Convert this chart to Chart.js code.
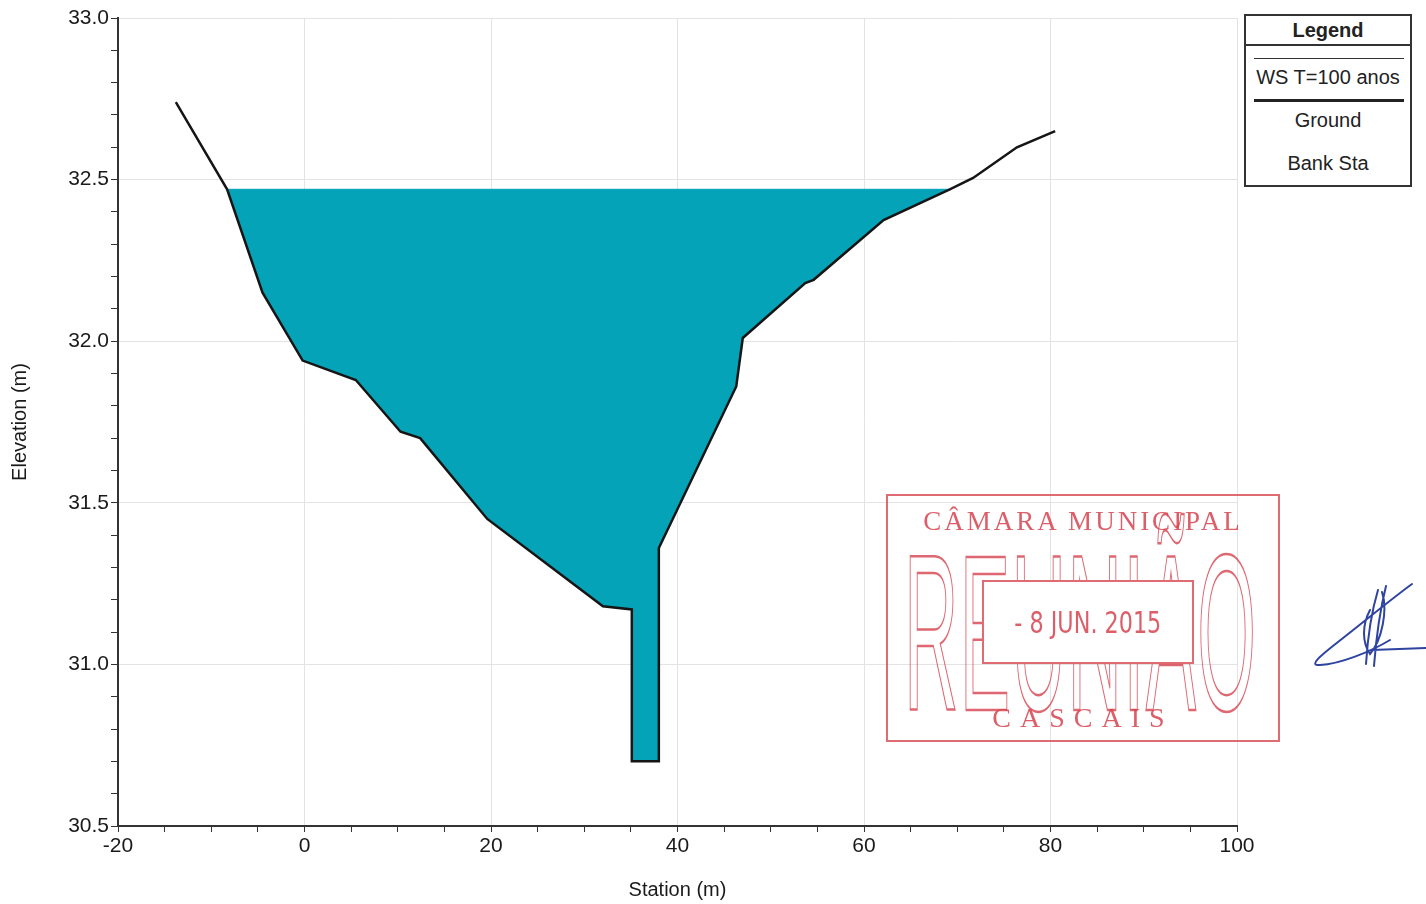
<!DOCTYPE html>
<html>
<head>
<meta charset="utf-8">
<script src="https://cdn.jsdelivr.net/npm/chart.js@4.4.1/dist/chart.umd.min.js"></script>
<style>
  body { margin: 0; background: #fff; }
  #wrap { position: relative; width: 1426px; height: 904px; overflow: hidden; font-family: "Liberation Sans", Arial, sans-serif; }
  #legendBox { position: absolute; left: 1244px; top: 14px; width: 164px; height: 169px; border: 2px solid #333; background: #fff; color: #222; }
  #legendBox .ttl { position: absolute; left: 0; right: 0; top: 3px; text-align: center; font-weight: bold; font-size: 20px; }
  #legendBox .div { position: absolute; left: 0; right: 0; top: 28px; border-top: 2px solid #333; }
  #legendBox .smp { position: absolute; left: 8px; right: 6px; }
  #legendBox .lbl { position: absolute; left: 0; right: 0; text-align: center; font-size: 20px; }
  #stamp { position: absolute; left: 886px; top: 494px; width: 390px; height: 244px; border: 2px solid rgba(216,70,80,.8); color: rgba(214,66,78,.85); }
  #stamp .muni { position: absolute; left: 0; right: 0; top: 10px; text-align: center; font-family: "Liberation Serif", serif; font-size: 27px; letter-spacing: 3px; }
  #stamp .big { position: absolute; left: 16px; top: 26px; font-size: 222px; line-height: 222px; color: transparent; -webkit-text-stroke: 2.5px rgba(214,66,78,.8); transform: scaleX(0.34); transform-origin: left top; letter-spacing: 4px; }
  #stamp .date { position: absolute; left: 94px; top: 84px; width: 208px; height: 80px; background: #fff; border: 2px solid rgba(216,70,80,.8); text-align: center; line-height: 80px; font-size: 31px; font-family: "DejaVu Sans Condensed", "DejaVu Sans", sans-serif; }
  #stamp .date span { display: inline-block; transform: scaleX(0.8); }
  #stamp .cas { position: absolute; left: 0; right: 0; top: 206px; text-align: center; font-family: "Liberation Serif", serif; font-size: 28px; letter-spacing: 9px; }
  #sig { position: absolute; left: 1300px; top: 570px; }
</style>
</head>
<body>
<div id="wrap">
  <canvas id="chart" width="1426" height="904"></canvas>
  <div id="legendBox">
    <div class="ttl">Legend</div>
    <div class="div"></div>
    <div class="smp" style="top:42px;border-top:1px solid #333;"></div>
    <div class="lbl" style="top:50px;">WS T=100 anos</div>
    <div class="smp" style="top:83px;border-top:3px solid #222;"></div>
    <div class="lbl" style="top:93px;">Ground</div>
    <div class="lbl" style="top:136px;">Bank Sta</div>
  </div>
  <div id="stamp">
    <div class="muni">CÂMARA MUNICIPAL</div>
    <div class="big">REUNIÃO</div>
    <div class="date"><span>- 8 JUN. 2015</span></div>
    <div class="cas">CASCAIS</div>
  </div>
  <svg id="sig" width="126" height="110" viewBox="0 0 126 110">
    <path d="M112,14 C90,30 60,55 38,72 C20,86 8,96 20,95 C40,94 70,82 90,70 M78,20 C72,40 68,62 66,94 M86,16 C80,40 76,70 74,96 M70,40 C62,55 62,72 70,84 C82,70 88,40 82,22 M72,80 L126,78"
          fill="none" stroke="#2f44a0" stroke-width="2" stroke-linecap="round"/>
  </svg>
</div>
<script>
// ground profile
const groundStation = [-13.8, -8.3, -4.5, -0.2, 5.5, 10.3, 12.4, 19.6, 32.0, 35.1, 35.1, 38.0, 38.0, 46.3, 47.0, 53.7, 54.6, 62.1, 69.2, 71.7, 76.4, 80.5];
const groundElev = [32.74, 32.47, 32.15, 31.94, 31.88, 31.72, 31.70, 31.45, 31.18, 31.17, 30.70, 30.70, 31.36, 31.86, 32.01, 32.18, 32.19, 32.375, 32.47, 32.505, 32.60, 32.65];

// water surface T=100 anos
const wsElev = 32.47;
const wsStation = [-8.3, 69.2];

const xTickLabels = [-20, 0, 20, 40, 60, 80, 100];
const yTickLabels = [30.5, 31.0, 31.5, 32.0, 32.5, 33.0];

const waterColor = '#04a3b8';
const gridColor = '#e3e3e3';

const groundPts = groundStation.map((x, i) => ({ x: x, y: groundElev[i] }));
const wsPts = wsStation.map(x => ({ x: x, y: wsElev }));
// wetted part of the section: ground points between the two water edges
const waterPts = groundPts.filter(p => p.x >= wsStation[0] && p.x <= wsStation[1] && p.y <= wsElev);

function near(list, v) {
    return list.some(t => Math.abs(t - v) < 1e-6);
}

const tickFont = { family: 'Liberation Sans', size: 21 };
const titleFont = { family: 'Liberation Sans', size: 20 };

new Chart(document.getElementById('chart'), {
    type: 'scatter',
    data: {
        datasets: [
            {
                label: 'Ground',
                data: groundPts,
                showLine: true,
                borderColor: '#151515',
                borderWidth: 2.5,
                pointRadius: 0,
                fill: false,
                order: 0
            },
            {
                label: 'WS T=100 anos',
                data: waterPts,
                showLine: true,
                borderColor: 'rgba(0,0,0,0)',
                borderWidth: 0,
                backgroundColor: waterColor,
                pointRadius: 0,
                fill: { value: wsElev },
                order: 2
            },
            {
                label: 'WS line',
                data: wsPts,
                showLine: true,
                borderColor: waterColor,
                borderWidth: 1,
                pointRadius: 0,
                order: 1
            }
        ]
    },
    options: {
        responsive: false,
        animation: false,
        layout: { padding: { left: 0, right: 189, top: 18, bottom: 0 } },
        plugins: { legend: { display: false }, tooltip: { enabled: false } },
        scales: {
            x: {
                type: 'linear',
                min: -20,
                max: 100,
                afterFit: s => { s.height = 78; },
                ticks: {
                    stepSize: 5,
                    autoSkip: false,
                    maxRotation: 0,
                    padding: 2,
                    color: '#1a1a1a',
                    font: tickFont,
                    callback: v => near(xTickLabels, v) ? String(v) : ''
                },
                grid: {
                    color: c => (c.tick && near(xTickLabels, c.tick.value)) ? gridColor : 'rgba(0,0,0,0)',
                    tickColor: '#333',
                    tickLength: 6
                },
                border: { color: '#333', width: 2 },
                title: { display: true, text: 'Station (m)', color: '#1a1a1a', font: titleFont, padding: 2 }
            },
            y: {
                min: 30.5,
                max: 33,
                afterFit: s => { s.width = 118; },
                ticks: {
                    stepSize: 0.1,
                    autoSkip: false,
                    padding: 2,
                    color: '#1a1a1a',
                    font: tickFont,
                    callback: v => near(yTickLabels, v) ? v.toFixed(1) : ''
                },
                grid: {
                    color: c => (c.tick && near(yTickLabels, c.tick.value)) ? gridColor : 'rgba(0,0,0,0)',
                    tickColor: '#333',
                    tickLength: 7
                },
                border: { color: '#333', width: 2 },
                title: { display: true, text: 'Elevation (m)', color: '#1a1a1a', font: titleFont, padding: 8 }
            }
        }
    }
});
</script>
</body>
</html>
